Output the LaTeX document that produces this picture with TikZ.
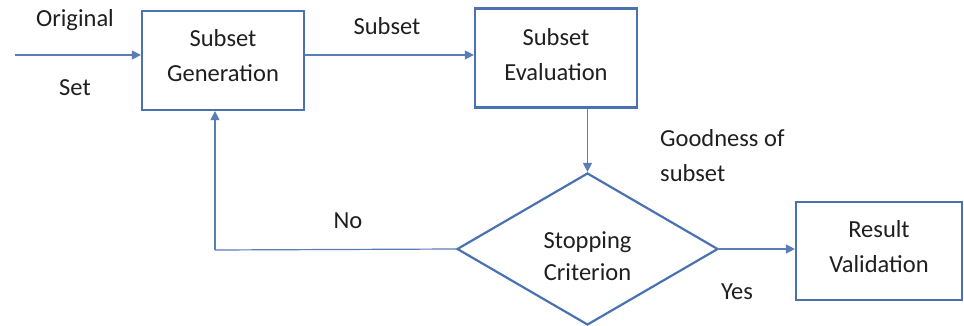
\documentclass[tikz,border=0pt]{standalone}
\usepackage{fontspec}
\setmainfont{Carlito}
\usetikzlibrary{shapes.geometric,arrows.meta}
\definecolor{boxblue}{HTML}{4A72B2}
\definecolor{lineblue}{HTML}{5A7DB8}
\tikzset{
  box/.style={draw=boxblue, line width=2.2pt, minimum width=162pt, minimum height=99pt, inner sep=0pt},
  conn/.style={draw=lineblue, line width=1.2pt, -{Triangle[length=9pt,width=9pt]}},
  plain/.style={draw=lineblue, line width=1.2pt},
  lbl/.style={align=left, inner sep=0pt},
  txt/.style={align=center, inner sep=0pt},
  every node/.append style={font=\fontsize{24.5}{35}\selectfont, text=black!88}
}
\begin{document}
\begin{tikzpicture}[x=1pt,y=-1pt]
\useasboundingbox (0,0) rectangle (964,326);
\node[box] (gen) at (223,60.5) {};
\node[txt] (gentxt) at (223,56) {Subset\\Generation};
\node[box] (eval) at (556,58) {};
\node[txt] (evaltxt) at (556,55) {Subset\\Evaluation};
\node[draw=boxblue, line width=2.2pt, diamond, minimum width=261pt, minimum height=152pt, inner sep=0pt, aspect=1.717] (stop) at (587.5,249) {};
\node[txt, font=\fontsize{24.5}{32}\selectfont] (stoptxt) at (587.5,256) {Stopping\\Criterion};
\node[box, minimum width=166pt, minimum height=98pt] (res) at (879,251) {};
\node[txt] (restxt) at (879,246.5) {Result\\Validation};
\coordinate (in) at (15,55);
\coordinate (corner) at (215,250);
\draw[conn] (in) -- (in -| gen.west);
\draw[conn] (gen.east |- 0,55) -- (eval.west |- 0,55);
\draw[conn] (587.5,108) -- (stop.north);
\draw[plain] (stop.west) -- (corner);
\draw[conn] (corner) -- (corner |- gen.south);
\draw[conn] (stop.east) -- (res.west |- stop.east);
\node[lbl] (orig) at (75,20) {Original};
\node[lbl] (set) at (75,88) {Set};
\node[lbl] (sub) at (387,26) {Subset};
\node[lbl, anchor=west] (good) at (660,138) {Goodness of};
\node[lbl, anchor=west] (gsub) at (660,173) {subset};
\node[lbl] (no) at (348,221) {No};
\node[lbl] (yes) at (737,292) {Yes};
\end{tikzpicture}
\end{document}
